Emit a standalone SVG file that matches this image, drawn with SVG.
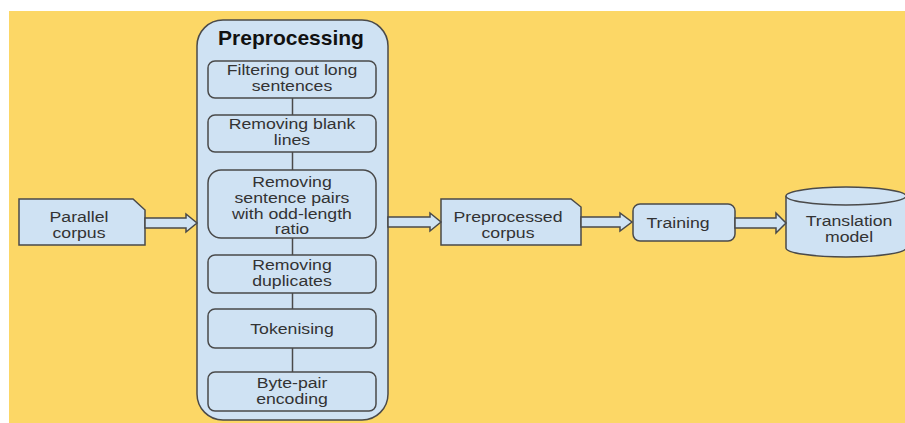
<svg xmlns="http://www.w3.org/2000/svg" width="905" height="423" viewBox="0 0 905 423">
  <style>
    .box { fill: #cfe2f3; stroke: #4a4a4a; stroke-width: 1.5; }
    .lbl { font-family: "Liberation Sans", Arial, sans-serif; font-size: 14.5px; fill: #333333; text-anchor: middle; }
    .title { font-family: "Liberation Sans", Arial, sans-serif; font-size: 21px; font-weight: bold; fill: #111111; text-anchor: middle; }
    .link { stroke: #4a4a4a; stroke-width: 1.5; fill: none; }
    .flow { fill: #cfe2f3; stroke: #4a4a4a; stroke-width: 1.5; stroke-linejoin: miter; }
  </style>
  <rect x="0" y="0" width="905" height="423" fill="#ffffff"/>
  <rect x="9" y="11" width="896" height="412" fill="#fcd766"/>

  <g id="parallel-corpus">
    <path class="box" d="M19,199 H133 L145,210 V245 H19 Z"/>
    <text class="lbl" transform="translate(79,222) scale(1.22,1)">Parallel</text>
    <text class="lbl" transform="translate(79,238) scale(1.22,1)">corpus</text>
  </g>

  <g id="preprocessing">
    <rect class="box" x="197" y="20" width="191" height="400" rx="26" ry="26"/>
    <text class="title" x="291" y="45">Preprocessing</text>
  </g>

  <g id="filter-long">
    <rect class="box" x="208" y="61" width="168" height="37" rx="7"/>
    <text class="lbl" transform="translate(292,75) scale(1.22,1)">Filtering out long</text>
    <text class="lbl" transform="translate(292,91) scale(1.22,1)">sentences</text>
  </g>
  <g id="remove-blank">
    <rect class="box" x="208" y="115" width="168" height="37" rx="7"/>
    <text class="lbl" transform="translate(292,129) scale(1.22,1)">Removing blank</text>
    <text class="lbl" transform="translate(292,145) scale(1.22,1)">lines</text>
  </g>
  <g id="remove-odd-ratio">
    <rect class="box" x="208" y="170" width="168" height="68" rx="13"/>
    <text class="lbl" transform="translate(292,187) scale(1.22,1)">Removing</text>
    <text class="lbl" transform="translate(292,203) scale(1.22,1)">sentence pairs</text>
    <text class="lbl" transform="translate(292,219) scale(1.22,1)">with odd-length</text>
    <text class="lbl" transform="translate(292,234) scale(1.22,1)">ratio</text>
  </g>
  <g id="remove-duplicates">
    <rect class="box" x="208" y="255" width="168" height="38" rx="7"/>
    <text class="lbl" transform="translate(292,270) scale(1.22,1)">Removing</text>
    <text class="lbl" transform="translate(292,286) scale(1.22,1)">duplicates</text>
  </g>
  <g id="tokenising">
    <rect class="box" x="208" y="309" width="168" height="39" rx="7"/>
    <text class="lbl" transform="translate(292,334) scale(1.22,1)">Tokenising</text>
  </g>
  <g id="bpe">
    <rect class="box" x="208" y="372" width="168" height="39" rx="7"/>
    <text class="lbl" transform="translate(292,388) scale(1.22,1)">Byte-pair</text>
    <text class="lbl" transform="translate(292,404) scale(1.22,1)">encoding</text>
  </g>

  <g id="preprocessed-corpus">
    <path class="box" d="M441,199 H571 L581,207 V245 H441 Z"/>
    <text class="lbl" transform="translate(508,222) scale(1.22,1)">Preprocessed</text>
    <text class="lbl" transform="translate(508,238) scale(1.22,1)">corpus</text>
  </g>

  <g id="training">
    <rect class="box" x="633" y="204" width="102" height="37" rx="7"/>
    <text class="lbl" transform="translate(678,228) scale(1.22,1)">Training</text>
  </g>

  <g id="translation-model">
    <path class="box" d="M786,196 V248 A60,9 0 0 0 906,248 V196"/>
    <ellipse class="box" cx="846" cy="196" rx="60" ry="9"/>
    <text class="lbl" transform="translate(849,226) scale(1.22,1)">Translation</text>
    <text class="lbl" transform="translate(849,242) scale(1.22,1)">model</text>
  </g>

  <g id="connectors">
    <line class="link" x1="292.5" y1="98" x2="292.5" y2="115"/>
    <line class="link" x1="292.5" y1="152" x2="292.5" y2="170"/>
    <line class="link" x1="292.5" y1="238" x2="292.5" y2="255"/>
    <line class="link" x1="292.5" y1="293" x2="292.5" y2="309"/>
    <line class="link" x1="292.5" y1="348" x2="292.5" y2="372"/>
    <path class="flow" d="M145,218 H186 V214 L197,223 L186,232 V228 H145 Z"/>
    <path class="flow" d="M388,217 H430 V213 L441,222 L430,231 V227 H388 Z"/>
    <path class="flow" d="M581,217 H620 V213 L632,222 L620,231 V227 H581 Z"/>
    <path class="flow" d="M735,218 H776 V213 L786,223 L776,233 V228 H735 Z"/>
  </g>
</svg>
